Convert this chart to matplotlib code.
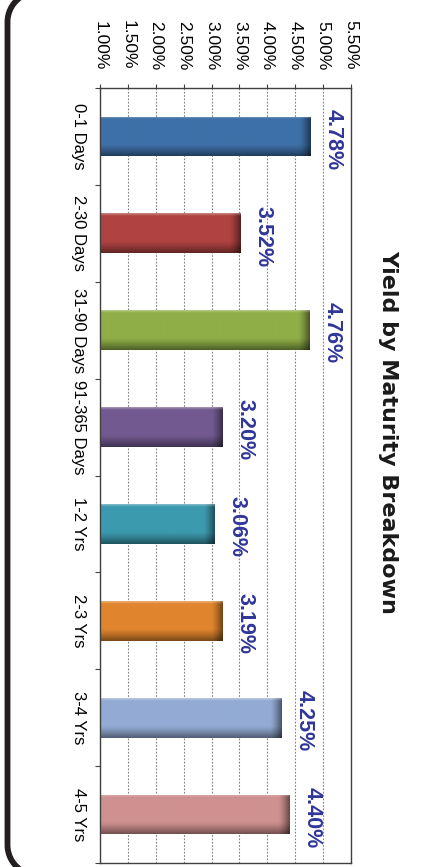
import numpy as np
import matplotlib
matplotlib.use("Agg")
import matplotlib.pyplot as plt
from matplotlib.lines import Line2D
from matplotlib.transforms import IdentityTransform
from matplotlib.colors import to_rgb

plt.rcParams['font.family'] = ['Liberation Sans', 'DejaVu Sans']

# data
categories = ["0-1 Days", "2-30 Days", "31-90 Days", "91-365 Days",
              "1-2 Yrs", "2-3 Yrs", "3-4 Yrs", "4-5 Yrs"]
yields = [4.78, 3.52, 4.76, 3.20, 3.06, 3.19, 4.25, 4.40]
bar_colors = ["#3E70A8", "#B04342", "#8FAE47", "#725A90",
              "#3C9AAF", "#E0852E", "#93ABD4", "#CF9190"]
value_ticks = [1.0, 1.5, 2.0, 2.5, 3.0, 3.5, 4.0, 4.5, 5.0, 5.5]
title = "Yield by Maturity Breakdown"

xmin, xmax = 1.0, 5.5
bar_h = 0.41
W, H = 425, 867

fig = plt.figure(figsize=(W / 100, H / 100), dpi=100)
ax = fig.add_axes([100 / W, 4 / H, 251 / W, 775 / H])

pos = np.arange(len(categories))
bars = ax.barh(pos, yields, height=bar_h, color=bar_colors, zorder=2,
               edgecolor='none')

# bevel-like shading on each bar
for bar, v, p, c in zip(bars, yields, pos, bar_colors):
    base = np.array(to_rgb(c))
    xs = np.linspace(xmin, v, 300)
    vs = np.linspace(0, 1, 60)
    end = np.clip(1 - (v - xs) / 0.2, 0, 1)
    cross = np.clip((vs - 0.7) / 0.3, 0, 1)
    top = np.clip(1 - vs / 0.06, 0, 1)
    shade = (1 - 0.5 * end[None, :] ** 1.3) * (1 - 0.45 * cross[:, None] ** 1.2)
    img = base[None, None, :] * shade[..., None]
    img = img + (1 - img) * 0.35 * top[:, None, None]
    im = ax.imshow(np.clip(img, 0, 1), extent=(xmin, v, p + bar_h / 2, p - bar_h / 2),
                   aspect='auto', origin='upper', interpolation='bilinear', zorder=2.5)
    im.set_clip_path(bar)
    ax.annotate(f"{v:.2f}%", xy=(v, p), xytext=(8.6, -2), textcoords='offset points',
                rotation=-90, ha='left', va='center', fontsize=15.5,
                fontweight='bold', color='#2F3699', zorder=4)

ax.set_xlim(xmin, xmax)
ax.set_ylim(len(categories) - 0.5, -0.5)

ax.xaxis.tick_top()
ax.set_xticks(value_ticks)
ax.set_xticklabels([f"{t:.2f}%" for t in value_ticks], rotation=-90,
                   ha='center', va='bottom', fontsize=12.5)
ax.tick_params(axis='x', length=3, width=0.8, pad=10, color='#404040')

ax.set_yticks(pos)
ax.set_yticklabels(categories, rotation=-90, ha='right', va='center', fontsize=12)
ax.set_yticks(np.arange(-0.5, len(categories), 1), minor=True)
ax.tick_params(axis='y', which='major', length=0, pad=10)
ax.tick_params(axis='y', which='minor', length=3.6, width=0.8, color='#404040')

ax.grid(axis='x', linestyle=(0, (1.5, 1.5)), color='#808080', linewidth=0.8)
ax.set_axisbelow(True)
for s in ax.spines.values():
    s.set_color('#404040')
    s.set_linewidth(1.0)

fig.text(0.913, 0.502, title, rotation=-90, ha='center', va='center',
         fontsize=16, fontweight='bold', family='DejaVu Sans', color='#1a1a1a')

# rounded outer frame (pixel coords), only the left side falls inside the picture
r, off, x0 = 30, 8, 7.5
t_top = np.linspace(np.pi, np.pi / 2, 40)
t_bot = np.linspace(-np.pi / 2, -np.pi, 40)
fx = np.concatenate([[W + 50], x0 + r + r * np.cos(t_bot),
                     x0 + r + r * np.cos(t_top), [W + 50]])
fy = np.concatenate([[-off], -off + r + r * np.sin(t_bot),
                     H + off - r + r * np.sin(t_top), [H + off]])
fig.add_artist(Line2D(fx, fy, transform=IdentityTransform(), color='#231F20',
                      linewidth=4.2, solid_joinstyle='round'))

fig.savefig("out.png", dpi=100)
